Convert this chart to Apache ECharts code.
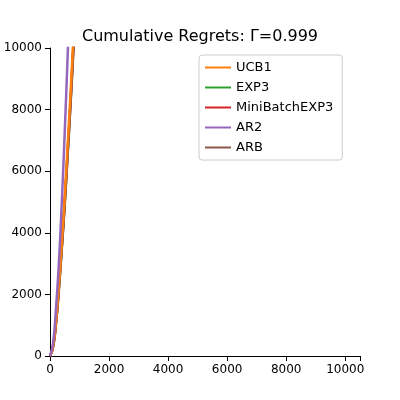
<!DOCTYPE html>
<html><head><meta charset="utf-8">
<script src="https://cdn.jsdelivr.net/npm/echarts@6/dist/echarts.min.js"></script>
<style>html,body{margin:0;padding:0;background:#fff}#c{width:400px;height:400px}</style>
</head><body><div id="c"></div>
<script>
// 横轴：迭代步数
var steps = [0, 100, 200, 300, 400, 500, 600, 700, 800, 900];
var ucb1 = [0, 300, 1100, 2300, 3700, 5200, 6900, 8600, 10500, 12400];
var exp3 = [0, 280, 1050, 2200, 3550, 5000, 6650, 8350, 10200, 12100];
var miniBatchExp3 = [0, 280, 1050, 2200, 3550, 5000, 6650, 8350, 10200, 12100];
var ar2 = [0, 400, 1500, 3000, 5000, 7300, 9800, 12500, 15300, 18200];
var arb = [0, 270, 1020, 2150, 3500, 4950, 6550, 8250, 10050, 11900];

var names = ['UCB1', 'EXP3', 'MiniBatchEXP3', 'AR2', 'ARB'];
var colors = ['#ff7f0e', '#2ca02c', '#d62728', '#9467bd', '#8c564b'];
var values = [ucb1, exp3, miniBatchExp3, ar2, arb];
var drawOrder = [1, 2, 4, 0, 3];

function pairs(v) {
    var out = [];
    for (var i = 0; i < steps.length; i++) out.push([steps[i], v[i]]);
    return out;
}

var series = [];
for (var k = 0; k < drawOrder.length; k++) {
    var i = drawOrder[k];
    series.push({
        name: names[i], type: 'line', smooth: true, showSymbol: false,
        data: pairs(values[i]), clip: true,
        lineStyle: {color: colors[i], width: 2.5}, itemStyle: {color: colors[i]}
    });
}

var chart = echarts.init(document.getElementById('c'));
chart.setOption({
    animation: false,
    title: {text: 'Cumulative Regrets: Γ=0.999', left: 'center', top: 24,
        textStyle: {fontFamily: 'DejaVu Sans', fontSize: 16, fontWeight: 'normal', color: '#000'}},
    legend: {
        data: names, orient: 'vertical', left: 199, top: 55,
        itemWidth: 26, itemHeight: 2, itemGap: 7,
        icon: 'rect', padding: [6, 9, 6, 6],
        borderColor: '#ccc', borderWidth: 1, borderRadius: 3,
        textStyle: {fontFamily: 'DejaVu Sans', fontSize: 13, color: '#000'}
    },
    grid: {left: 50, right: 40, top: 48, bottom: 44},
    xAxis: {
        type: 'value', min: 0, max: 10500, interval: 2000,
        axisLine: {lineStyle: {color: '#000'}}, axisTick: {lineStyle: {color: '#000'}},
        splitLine: {show: false},
        axisLabel: {color: '#000', fontFamily: 'DejaVu Sans', fontSize: 12,
            formatter: function (v) { return v <= 10000 ? String(v) : ''; }}
    },
    yAxis: {
        type: 'value', min: 0, max: 10000, interval: 2000,
        axisLine: {show: true, lineStyle: {color: '#000'}},
        axisTick: {show: true, lineStyle: {color: '#000'}},
        splitLine: {show: false},
        axisLabel: {color: '#000', fontFamily: 'DejaVu Sans', fontSize: 12,
            formatter: function (v) { return String(v); }}
    },
    series: series
});
</script></body></html>
